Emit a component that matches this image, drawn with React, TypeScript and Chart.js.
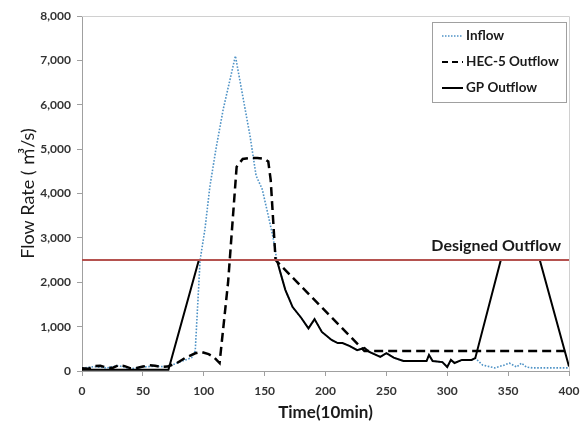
import React, { useEffect, useRef } from "react";
import { Chart, registerables } from "chart.js";

Chart.register(...registerables);

// ---- Data ----
const inflowTime = [0, 10, 20, 30, 40, 50, 60, 70, 80, 90, 93, 97, 101, 105, 110, 116, 121, 126, 132, 138, 143, 148, 153, 157, 160, 167, 173, 180, 186, 191, 197, 205, 210, 214, 220, 226, 232, 236, 245, 250, 256, 264, 283, 285, 288, 296, 300, 303, 306, 312, 320, 323, 329, 339, 347, 351, 357, 361, 365, 370, 400];
const inflowValues = [60, 100, 70, 120, 50, 90, 110, 90, 200, 300, 450, 2500, 3200, 4150, 5000, 5900, 6500, 7100, 6200, 5300, 4400, 4100, 3500, 3000, 2500, 1830, 1440, 1200, 960, 1170, 880, 700, 630, 630, 560, 470, 520, 430, 320, 400, 300, 225, 225, 360, 225, 200, 90, 250, 180, 250, 250, 290, 135, 70, 135, 180, 90, 180, 90, 70, 70];

const hecTime = [0, 5, 10, 15, 20, 25, 30, 35, 40, 45, 50, 55, 60, 65, 70, 78, 85, 93, 98, 104, 108, 113, 120, 127, 132, 138, 144, 150, 153, 155, 159, 232, 400];
const hecValues = [60, 50, 110, 120, 80, 70, 130, 110, 60, 70, 100, 130, 120, 90, 100, 180, 300, 400, 430, 380, 320, 180, 2000, 4600, 4780, 4800, 4800, 4780, 4720, 4300, 2500, 450, 450];

const gpTime = [0, 71, 96, 160, 167, 173, 180, 186, 191, 197, 205, 210, 214, 220, 226, 232, 236, 245, 250, 256, 264, 283, 285, 288, 296, 300, 303, 306, 312, 320, 323, 344, 376, 400];
const gpValues = [30, 30, 2500, 2500, 1830, 1440, 1200, 960, 1170, 880, 700, 630, 630, 560, 470, 520, 430, 320, 400, 300, 225, 225, 360, 225, 200, 90, 250, 180, 250, 250, 290, 2500, 2500, 100];

const designedTime = [0, 400];
const designedValues = [2500, 2500];

const seriesNames = ["Inflow", "HEC-5 Outflow", "GP Outflow"];
const designedLabel = "Designed Outflow";
const xTicks = [0, 50, 100, 150, 200, 250, 300, 350, 400];
const yTicks = [0, 1000, 2000, 3000, 4000, 5000, 6000, 7000, 8000];
const xTitle = "Time(10min)";
const yTitle = "Flow Rate ( ㎥/s)";

const FONT = "Lato, 'Liberation Sans', 'Noto Sans CJK KR', sans-serif";
const INFLOW_COLOR = "#4f93c6";
const DESIGNED_COLOR = "#b5524f";

const toPoints = (xs: number[], ys: number[]) => xs.map((x, i) => ({ x, y: ys[i] }));

const overlayPlugin = {
  id: "overlay",
  afterDraw(chart: any) {
    const { ctx, chartArea, scales } = chart;
    ctx.save();
    // frame top/right
    ctx.strokeStyle = "#d0d0d0";
    ctx.lineWidth = 1;
    ctx.beginPath();
    ctx.moveTo(chartArea.left, chartArea.top + 0.5);
    ctx.lineTo(chartArea.right + 0.5, chartArea.top + 0.5);
    ctx.lineTo(chartArea.right + 0.5, chartArea.bottom);
    ctx.stroke();

    // designed outflow label
    const yPix = scales.y.getPixelForValue(designedValues[0]);
    ctx.fillStyle = "#1a1a1a";
    ctx.font = `bold 16px ${FONT}`;
    ctx.textAlign = "right";
    ctx.textBaseline = "bottom";
    ctx.fillText(designedLabel, chartArea.right - 8, yPix - 6);

    // legend
    const bx = 432, by = 22, bw = 134, bh = 80;
    ctx.fillStyle = "#ffffff";
    ctx.fillRect(bx, by, bw, bh);
    ctx.strokeStyle = "#a0a0a0";
    ctx.strokeRect(bx + 0.5, by + 0.5, bw, bh);
    const styles = [
      { color: INFLOW_COLOR, dash: [1.5, 1.5], width: 1.5 },
      { color: "#000", dash: [6, 4], width: 2.2 },
      { color: "#000", dash: [], width: 2 },
    ];
    ctx.font = `bold 13.5px ${FONT}`;
    ctx.textAlign = "left";
    ctx.textBaseline = "middle";
    seriesNames.forEach((name, i) => {
      const cy = by + 14 + i * 26;
      ctx.beginPath();
      ctx.setLineDash(styles[i].dash);
      ctx.strokeStyle = styles[i].color;
      ctx.lineWidth = styles[i].width;
      ctx.moveTo(bx + 10, cy);
      ctx.lineTo(bx + 31, cy);
      ctx.stroke();
      ctx.setLineDash([]);
      ctx.fillStyle = "#1a1a1a";
      ctx.fillText(name, bx + 34, cy);
    });
    ctx.restore();
  },
};

export default function App() {
  const ref = useRef<HTMLCanvasElement>(null);
  useEffect(() => {
    document.body.style.margin = "0";
    const chart = new Chart(ref.current!, {
      type: "line",
      data: {
        datasets: [
          {
            label: designedLabel,
            data: toPoints(designedTime, designedValues),
            borderColor: DESIGNED_COLOR,
            borderWidth: 2,
            pointRadius: 0,
          },
          {
            label: seriesNames[2],
            data: toPoints(gpTime, gpValues),
            borderColor: "#000",
            borderWidth: 2,
            pointRadius: 0,
          },
          {
            label: seriesNames[1],
            data: toPoints(hecTime, hecValues),
            borderColor: "#000",
            borderWidth: 2.5,
            borderDash: [9, 5],
            pointRadius: 0,
          },
          {
            label: seriesNames[0],
            data: toPoints(inflowTime, inflowValues),
            borderColor: INFLOW_COLOR,
            borderWidth: 1.6,
            borderDash: [1.6, 1.6],
            pointRadius: 0,
          },
        ],
      },
      options: {
        animation: false,
        responsive: false,
        events: [],
        layout: { padding: { top: 16, right: 15, left: 0, bottom: 0 } },
        plugins: { legend: { display: false }, tooltip: { enabled: false } },
        scales: {
          x: {
            type: "linear",
            min: 0,
            max: 400,
            afterFit: (s: any) => { s.height = 52; s.paddingLeft = 0; s.paddingRight = 0; },
            afterBuildTicks: (s: any) => { s.ticks = xTicks.map((v) => ({ value: v })); },
            ticks: { color: "#333", font: { family: FONT, size: 12, weight: "bold" }, padding: 8 },
            grid: { drawOnChartArea: false, drawTicks: true, tickLength: 5, color: "#a0a0a0" },
            border: { color: "#a0a0a0" },
            title: { display: true, text: xTitle, color: "#1a1a1a", font: { family: FONT, size: 17, weight: "bold" }, padding: { top: 0, bottom: 0 } },
          },
          y: {
            type: "linear",
            min: 0,
            max: 8000,
            afterFit: (s: any) => { s.width = 82; s.paddingTop = 0; s.paddingBottom = 0; },
            afterBuildTicks: (s: any) => { s.ticks = yTicks.map((v) => ({ value: v })); },
            ticks: {
              color: "#333",
              font: { family: FONT, size: 12, weight: "bold" },
              padding: 6,
              callback: (v: any) => Number(v).toLocaleString("en-US"),
            },
            grid: { drawOnChartArea: false, drawTicks: true, tickLength: 5, color: "#a0a0a0" },
            border: { color: "#a0a0a0" },
            title: { display: true, text: yTitle, color: "#1a1a1a", font: { family: FONT, size: 18 }, padding: { top: 17, bottom: 0 } },
          },
        },
      },
      plugins: [overlayPlugin],
    });
    return () => chart.destroy();
  }, []);
  return <canvas ref={ref} width={584} height={423} style={{ display: "block" }} />;
}
